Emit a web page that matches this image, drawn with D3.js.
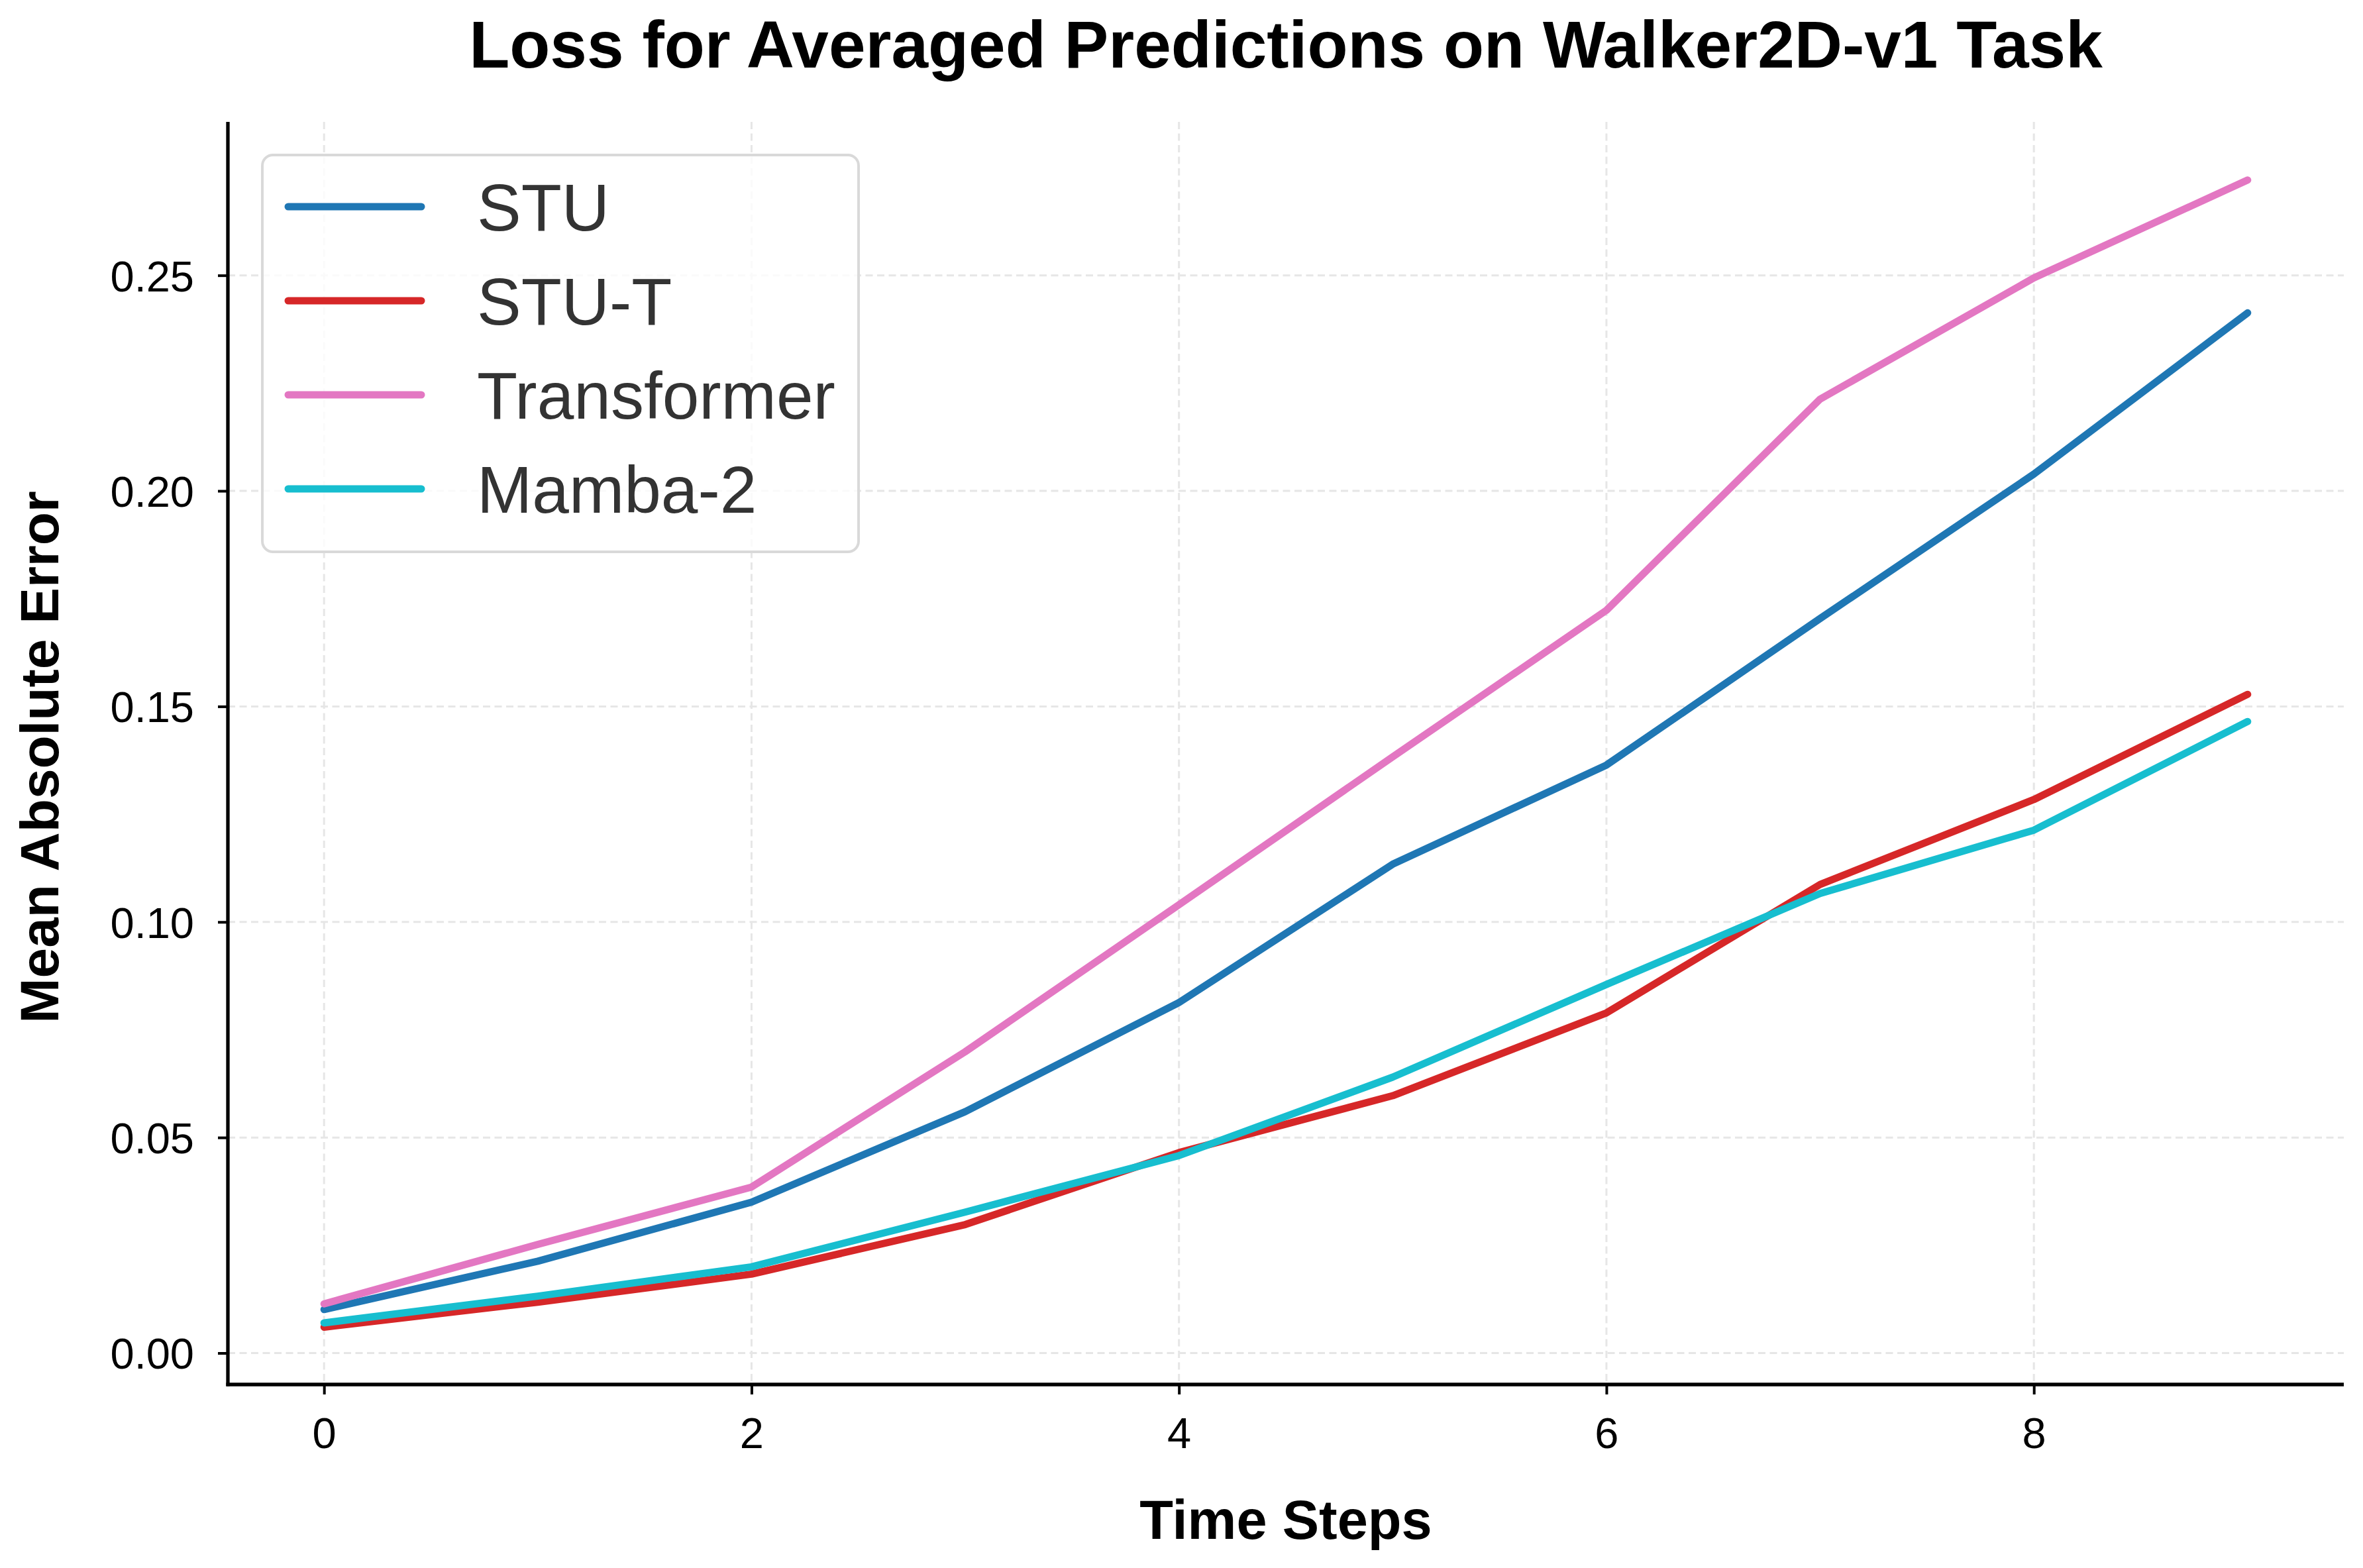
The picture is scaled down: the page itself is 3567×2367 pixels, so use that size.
<!DOCTYPE html>
<html>
<head>
<meta charset="utf-8">
<script src="https://cdn.jsdelivr.net/npm/d3@7"></script>
<style>
	body { margin: 0; background: #fff; }
	text { font-family: "Liberation Sans", Arial, sans-serif; }
</style>
</head>
<body>
<svg id="chart" width="3567" height="2367"></svg>
<script>
// data
const steps = [0, 1, 2, 3, 4, 5, 6, 7, 8, 9];
const stu = [0.0101, 0.0213, 0.0350, 0.0560, 0.0813, 0.1134, 0.1364, 0.1704, 0.2039, 0.2413];
const stuT = [0.0060, 0.0118, 0.0183, 0.0298, 0.0465, 0.0597, 0.0789, 0.1087, 0.1284, 0.1528];
const transformer = [0.0114, 0.0252, 0.0385, 0.0699, 0.1040, 0.1383, 0.1723, 0.2213, 0.2494, 0.2721];
const mamba2 = [0.0070, 0.0132, 0.0200, 0.0327, 0.0458, 0.0640, 0.0855, 0.1066, 0.1213, 0.1465];

const seriesNames = ["STU", "STU-T", "Transformer", "Mamba-2"];
const seriesValues = [stu, stuT, transformer, mamba2];
const seriesColors = ["#1f77b4", "#d62728", "#e377c2", "#17becf"];

const xTicks = [0, 2, 4, 6, 8];
const yTicks = [0, 0.05, 0.10, 0.15, 0.20, 0.25];

const plot = {left: 344, right: 3538, top: 184, bottom: 2090};

const svg = d3.select("#chart");

const x = d3.scaleLinear()
	.domain([-0.45, 9.45])
	.range([plot.left, plot.right]);

const y = d3.scaleLinear()
	.domain([-0.0073, 0.2856])
	.range([plot.bottom, plot.top]);

//grid
svg.append("g")
	.selectAll("line")
	.data(xTicks)
	.enter()
	.append("line")
		.attr("x1", d => x(d))
		.attr("x2", d => x(d))
		.attr("y1", plot.top)
		.attr("y2", plot.bottom)
		.attr("stroke", "#e6e6e6")
		.attr("stroke-width", 3)
		.attr("stroke-dasharray", "11,6.5");

svg.append("g")
	.selectAll("line")
	.data(yTicks)
	.enter()
	.append("line")
		.attr("x1", plot.left)
		.attr("x2", plot.right)
		.attr("y1", d => y(d))
		.attr("y2", d => y(d))
		.attr("stroke", "#e6e6e6")
		.attr("stroke-width", 3)
		.attr("stroke-dasharray", "11,6.5");

//lines
const line = d3.line()
	.x((d, i) => x(steps[i]))
	.y(d => y(d));

svg.append("g")
	.selectAll("path")
	.data(seriesValues)
	.enter()
	.append("path")
		.attr("fill", "none")
		.attr("stroke", (d, i) => seriesColors[i])
		.attr("stroke-width", 11)
		.attr("stroke-linecap", "round")
		.attr("stroke-linejoin", "round")
		.attr("d", line);

//axes
const xAxis = d3.axisBottom(x)
	.tickValues(xTicks)
	.tickFormat(d3.format("d"))
	.tickSize(15);

const yAxis = d3.axisLeft(y)
	.tickValues(yTicks)
	.tickFormat(d3.format(".2f"))
	.tickSize(15)
	.tickPadding(36);

const gx = svg.append("g")
	.attr("transform", "translate(0," + plot.bottom + ")")
	.call(xAxis);
gx.select(".domain").remove();
gx.selectAll(".tick line").attr("stroke-width", 4).attr("stroke", "#000");
gx.selectAll(".tick text")
	.attr("y", 96)
	.attr("dy", 0)
	.style("font-size", "65px")
	.attr("fill", "#000");

const gy = svg.append("g")
	.attr("transform", "translate(" + plot.left + ",0)")
	.call(yAxis);
gy.select(".domain").remove();
gy.selectAll(".tick line").attr("stroke-width", 4).attr("stroke", "#000");
gy.selectAll(".tick text")
	.attr("dy", "0.36em")
	.style("font-size", "65px")
	.attr("fill", "#000");

//spines (left and bottom only)
svg.append("line")
	.attr("x1", plot.left)
	.attr("x2", plot.left)
	.attr("y1", plot.top)
	.attr("y2", plot.bottom + 2.6)
	.attr("stroke", "#000")
	.attr("stroke-width", 5.3);
svg.append("line")
	.attr("x1", plot.left - 2.6)
	.attr("x2", plot.right)
	.attr("y1", plot.bottom)
	.attr("y2", plot.bottom)
	.attr("stroke", "#000")
	.attr("stroke-width", 5.3);

//title and axis labels
svg.append("text")
	.attr("x", (plot.left + plot.right) / 2)
	.attr("y", 102)
	.attr("text-anchor", "middle")
	.style("font-size", "100px")
	.style("font-weight", "bold")
	.text("Loss for Averaged Predictions on Walker2D-v1 Task");

svg.append("text")
	.attr("x", (plot.left + plot.right) / 2)
	.attr("y", 2323)
	.attr("text-anchor", "middle")
	.style("font-size", "83px")
	.style("font-weight", "bold")
	.text("Time Steps");

svg.append("text")
	.attr("transform", "translate(88," + ((plot.top + plot.bottom) / 2 + 6) + ") rotate(-90)")
	.attr("text-anchor", "middle")
	.style("font-size", "82px")
	.style("font-weight", "bold")
	.text("Mean Absolute Error");

//legend
const legend = svg.append("g");
legend.append("rect")
	.attr("x", 396)
	.attr("y", 234)
	.attr("width", 900)
	.attr("height", 599)
	.attr("rx", 16)
	.attr("fill", "#fff")
	.attr("fill-opacity", 0.8)
	.attr("stroke", "#d9d9d9")
	.attr("stroke-width", 4);

const items = legend.selectAll(".item")
	.data(seriesNames)
	.enter()
	.append("g")
		.attr("class", "item")
		.attr("transform", (d, i) => "translate(0," + (312 + i * 142) + ")");

items.append("line")
	.attr("x1", 435)
	.attr("x2", 636)
	.attr("stroke", (d, i) => seriesColors[i])
	.attr("stroke-width", 11)
	.attr("stroke-linecap", "round");

items.append("text")
	.attr("x", 720)
	.attr("y", 36)
	.style("font-size", "100px")
	.attr("fill", "#333")
	.text(d => d);
</script>
</body>
</html>
